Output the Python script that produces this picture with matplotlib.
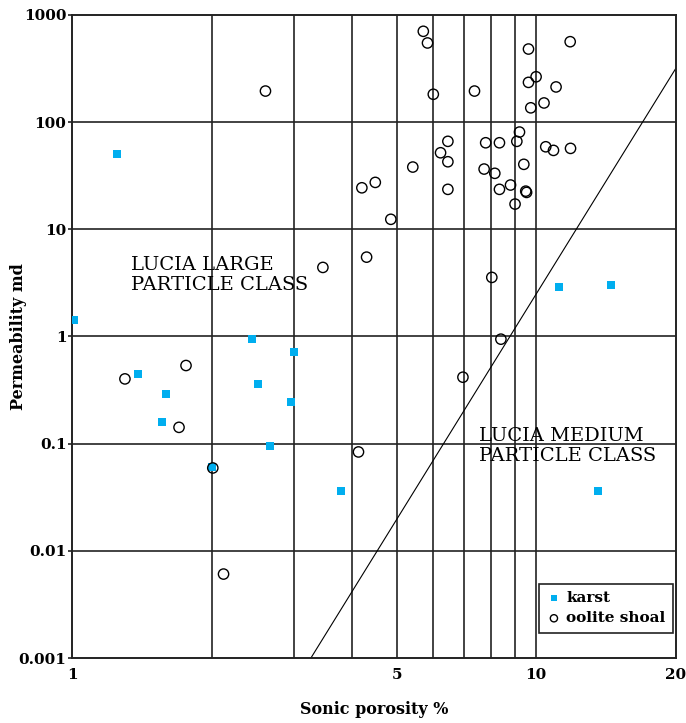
import matplotlib.pyplot as plt
from matplotlib.ticker import FixedLocator, NullLocator

plt.rcParams['font.family'] = ['DejaVu Serif']

# karst samples (sonic porosity %, permeability md)
karst_phi = [1.01, 1.25, 1.39, 1.59, 1.56, 2.0, 2.44, 2.52, 2.67, 3.01, 2.96, 3.80,
             11.18, 14.5, 13.6]
karst_k = [1.42, 50, 0.445, 0.289, 0.158, 0.060, 0.944, 0.359, 0.095, 0.713, 0.244, 0.036,
           2.88, 3.03, 0.036]

# oolite shoal samples
oolite_phi = [5.71, 5.83, 6.00, 7.36, 9.62, 11.83, 9.99, 9.62, 11.03, 10.39, 9.73, 9.20,
              6.45, 7.78, 8.33, 9.08, 10.48, 10.89, 11.85, 6.22, 6.45, 5.42, 7.72, 8.14,
              9.40, 4.50, 4.21, 6.45, 8.33, 8.80, 9.49, 9.53, 9.00, 4.86, 4.31, 8.02,
              8.39, 2.61, 3.47, 1.30, 1.76, 1.70, 2.01, 2.12, 6.95, 4.14]
oolite_k = [704, 548, 182, 195, 481, 563, 265, 235, 213, 151, 136, 80.8,
            66.2, 64.2, 64.2, 66.2, 58.9, 54.5, 56.9, 51.8, 42.7, 38.1, 36.5, 33.3,
            40.4, 27.4, 24.4, 23.6, 23.6, 25.9, 22.7, 22.1, 17.2, 12.4, 5.50, 3.56,
            0.944, 195, 4.41, 0.402, 0.536, 0.142, 0.0593, 0.00607, 0.417, 0.0837]

# boundary line between the Lucia classes
line_phi = [3.27, 20]
line_k = [0.001, 320]

xticks = [1, 5, 10, 20]
xgrid = [2, 3, 4, 5, 6, 7, 8, 9, 10]
yticks = [0.001, 0.01, 0.1, 1, 10, 100, 1000]
ytick_labels = ['0.001', '0.01', '0.1', '1', '10', '100', '1000']

fig = plt.figure(figsize=(6.86, 7.23), dpi=100)
ax = fig.add_axes([0.105, 0.0899, 0.8805, 0.8894])
ax.set_xscale('log')
ax.set_yscale('log')
ax.set_xlim(1, 20)
ax.set_ylim(0.001, 1000)

gc = '#222222'
for g in xgrid:
    ax.axvline(g, color=gc, lw=1.2, zorder=1)
for g in yticks[1:-1]:
    ax.axhline(g, color=gc, lw=1.2, zorder=1)

ax.plot(line_phi, line_k, color='black', lw=0.8, zorder=2)

ax.scatter(karst_phi, karst_k, marker='s', s=34, color='#00aeef', lw=0, zorder=3,
           label='karst')
ax.scatter(oolite_phi, oolite_k, marker='o', s=55, facecolors='none', edgecolors='black',
           lw=1.0, zorder=4, label='oolite shoal')

ax.xaxis.set_major_locator(FixedLocator(xticks))
ax.xaxis.set_minor_locator(NullLocator())
ax.set_xticklabels([str(t) for t in xticks], fontweight='bold', fontsize=11)
ax.yaxis.set_major_locator(FixedLocator(yticks))
ax.yaxis.set_minor_locator(NullLocator())
ax.set_yticklabels(ytick_labels, fontweight='bold', fontsize=11)
ax.tick_params(axis='x', length=0, pad=7)
ax.tick_params(axis='y', length=3, width=1.2, color=gc, pad=1)

for s in ax.spines.values():
    s.set_color(gc)
    s.set_linewidth(1.4)

ax.set_xlabel('Sonic porosity %', fontweight='bold', fontsize=11.5, labelpad=14)
ax.set_ylabel('Permeability md', fontweight='bold', fontsize=11.5)
ax.yaxis.set_label_coords(-0.074, 0.5)

ax.text(1.34, 5.6, 'LUCIA LARGE\nPARTICLE CLASS', fontsize=14, va='top', ha='left',
        linespacing=1.15, zorder=5)
ax.text(7.53, 0.142, 'LUCIA MEDIUM\nPARTICLE CLASS', fontsize=14, va='top', ha='left',
        linespacing=1.15, zorder=5)

leg = ax.legend(loc='lower right', bbox_to_anchor=(0.995, 0.039), borderaxespad=0,
                frameon=True, fancybox=False, edgecolor=gc, framealpha=1,
                prop={'weight': 'bold', 'size': 11}, handletextpad=0.3, borderpad=0.5,
                labelspacing=0.4, markerscale=0.7, handlelength=1.0)
leg.get_frame().set_linewidth(1.2)

fig.savefig('out.png', dpi=100)
